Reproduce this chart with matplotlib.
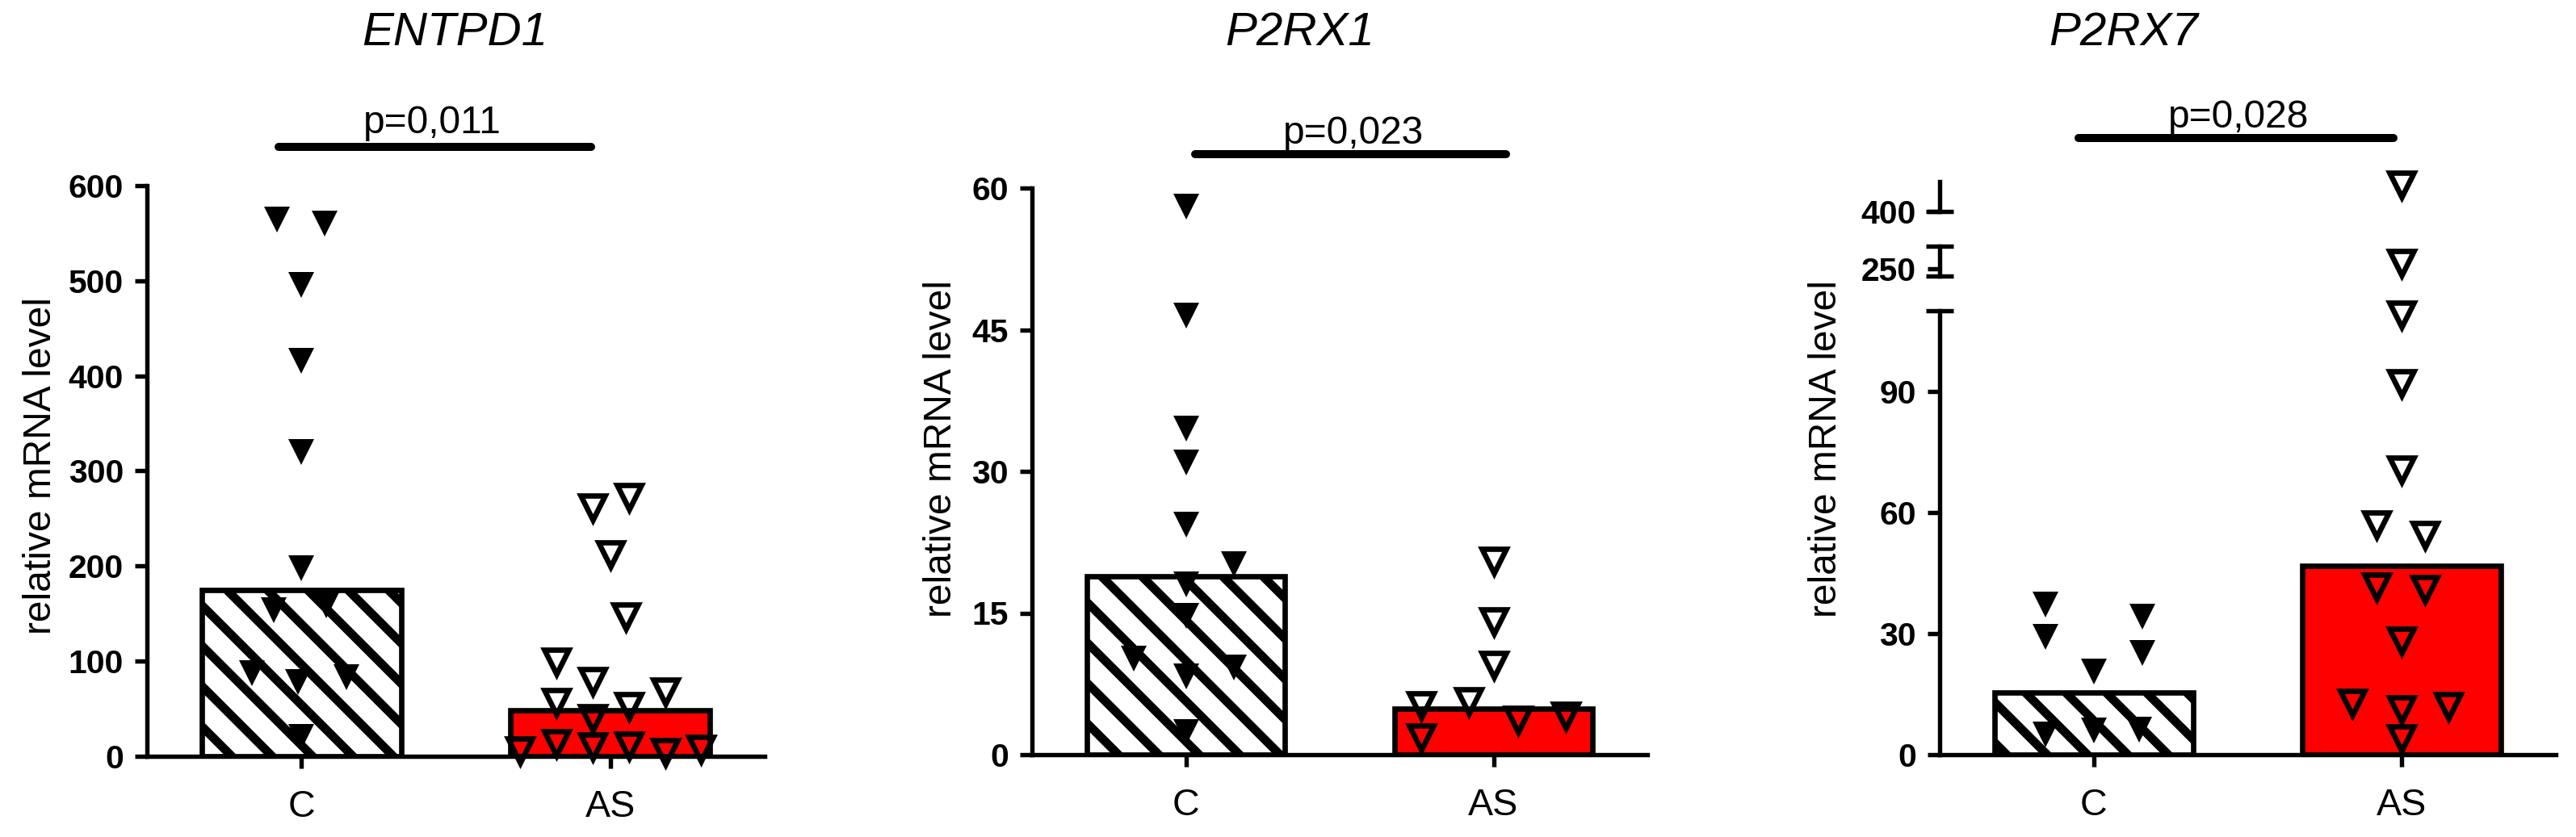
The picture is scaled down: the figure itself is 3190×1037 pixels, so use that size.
import matplotlib.pyplot as plt

plt.rcParams['font.family'] = ['Liberation Sans', 'DejaVu Sans']
plt.rcParams['hatch.linewidth'] = 2.6
plt.rcParams['hatch.color'] = 'black'

W, H = 3190, 1037
DPI = 300

groups = ['C', 'AS']
genes = ['ENTPD1', 'P2RX1', 'P2RX7']
p_labels = ['p=0,011', 'p=0,023', 'p=0,028']

# ENTPD1 (values and horizontal scatter)
entpd1_c = [564, 560, 496, 416, 320, 198, 154, 159, 87, 78, 83, 20]
entpd1_c_dx = [-0.08, 0.076, 0, 0, 0, 0, -0.089, 0.081, -0.16, -0.01, 0.147, 0]
entpd1_as = [261, 272, 212, 147, 99, 79, 68, 57, 53, 40, 6, 14, 10, 11, 4, 8]
entpd1_as_dx = [-0.058, 0.06, 0, 0.05, -0.175, -0.058, 0.178, -0.175, 0.06,
                -0.058, -0.293, -0.175, -0.058, 0.06, 0.178, 0.293]
entpd1_bar = [175, 48]
entpd1_ticks = [0, 100, 200, 300, 400, 500, 600]

# P2RX1
p2rx1_c = [58.0, 46.5, 34.5, 30.9, 24.4, 20.2, 18.0, 14.7, 10.2, 8.3, 9.2, 2.4]
p2rx1_c_dx = [0, 0, 0, 0, 0, 0.157, 0, 0, -0.168, 0, 0.157, 0]
p2rx1_as = [20.5, 14.1, 9.5, 5.2, 5.6, 3.7, 4.1, 1.8]
p2rx1_as_dx = [0, 0, 0, -0.236, -0.079, 0.079, 0.236, -0.236]
p2rx1_bar = [18.9, 4.9]
p2rx1_ticks = [0, 15, 30, 45, 60]

# P2RX7 (broken y axis)
p2rx7_c = [37.2, 29.2, 20.6, 34.2, 25.2, 5.0, 6.0, 6.2]
p2rx7_c_dx = [-0.157, -0.157, 0, 0.157, 0.157, -0.157, 0, 0.147]
p2rx7_as = [436, 257, 109, 92, 70.7, 57, 54.4, 41.6, 41, 28.2, 12.8, 11.2, 12, 4.0]
p2rx7_as_dx = [0, 0, 0, 0, 0, -0.081, 0.076, -0.081, 0.076, 0, -0.16, 0, 0.152, 0]
p2rx7_bar = [15.4, 46.8]
p2rx7_ticks_low = [0, 30, 60, 90]
p2rx7_segments = [(0, 110), (240, 280), (400, 440)]
p2rx7_ticks_mid = [250]
p2rx7_ticks_top = [400]

RED = '#ff0000'
LW = 1.3


def px(x0, y0, w, h):
    # pixel box (left, top, width, height) -> figure fraction rect
    return [x0 / W, 1 - (y0 + h) / H, w / W, h / H]


def style(ax, ticks, bottom=True):
    for s in ['top', 'right']:
        ax.spines[s].set_visible(False)
    ax.spines['left'].set_linewidth(LW)
    ax.spines['bottom'].set_linewidth(LW)
    if not bottom:
        ax.spines['bottom'].set_visible(False)
    ax.set_xlim(-0.5, 1.5)
    ax.set_yticks(ticks)
    ax.set_yticklabels([str(t) for t in ticks], fontsize=9.8, fontweight='bold')
    ax.tick_params(axis='y', length=3.6, width=LW, pad=3.4)
    if bottom:
        ax.set_xticks([0, 1])
        ax.set_xticklabels(groups, fontsize=11.2)
        ax.tick_params(axis='x', length=3.6, width=LW, pad=6.3)
    else:
        ax.set_xticks([])
    ax.patch.set_alpha(0)


def bars(ax, heights):
    ax.bar([0], heights[0], width=0.645, color='white', edgecolor='black',
           linewidth=1.6, hatch='\\\\', zorder=2)
    ax.bar([1], heights[1], width=0.645, color=RED, edgecolor='black',
           linewidth=1.6, zorder=2)


def points(ax, xc, vals, dx, filled):
    xs = [xc + d for d in dx]
    if filled:
        ax.plot(xs, vals, 'v', ms=7.5, color='black', mew=0, zorder=3, clip_on=False)
    else:
        ax.plot(xs, vals, 'v', ms=7.2, mfc='none', mec='black', mew=1.6,
                zorder=3, clip_on=False)


def cap(ax, y, half=0.0223):
    ax.plot([-half, half], [y, y], color='black', lw=LW, clip_on=False,
            transform=ax.transAxes, solid_capstyle='butt')


fig = plt.figure(figsize=(W / DPI, H / DPI), dpi=DPI)

# panel 1
ax1 = fig.add_axes(px(182, 230, 765, 707))
ax1.set_ylim(0, 600)
style(ax1, entpd1_ticks)
bars(ax1, entpd1_bar)
points(ax1, 0, entpd1_c, entpd1_c_dx, True)
points(ax1, 1, entpd1_as, entpd1_as_dx, False)

# panel 2
ax2 = fig.add_axes(px(1278, 233, 762, 702))
ax2.set_ylim(0, 60)
style(ax2, p2rx1_ticks)
bars(ax2, p2rx1_bar)
points(ax2, 0, p2rx1_c, p2rx1_c_dx, True)
points(ax2, 1, p2rx1_as, p2rx1_as_dx, False)

# panel 3, three stacked segments of one broken axis
ax3 = fig.add_axes(px(2402, 385, 763, 550))
ax3m = fig.add_axes(px(2402, 305, 763, 37))
ax3t = fig.add_axes(px(2402, 225, 763, 37))
ax3.set_ylim(*p2rx7_segments[0])
ax3m.set_ylim(*p2rx7_segments[1])
ax3t.set_ylim(*p2rx7_segments[2])
style(ax3, p2rx7_ticks_low)
style(ax3m, p2rx7_ticks_mid, bottom=False)
style(ax3t, p2rx7_ticks_top, bottom=False)
bars(ax3, p2rx7_bar)
points(ax3, 0, p2rx7_c, p2rx7_c_dx, True)
for seg_ax, (lo, hi) in zip([ax3, ax3m, ax3t], p2rx7_segments):
    sel = [i for i, v in enumerate(p2rx7_as) if lo <= v <= hi]
    points(seg_ax, 1, [p2rx7_as[i] for i in sel], [p2rx7_as_dx[i] for i in sel], False)
cap(ax3, 1)
cap(ax3m, 0)
cap(ax3m, 1)
cap(ax3t, 0)

# titles, p values, significance lines, y labels
title_x = [563, 1610, 2630]
for g, tx in zip(genes, title_x):
    fig.text(tx / W, 1 - 41 / H, g, fontsize=14, style='italic', ha='center', va='center')

sig = [(345, 732, 182, 535, 165), (1480, 1865, 191, 1676, 178), (2574, 2964, 171, 2772, 158)]
for (x0, x1, ly, tx, ty), lab in zip(sig, p_labels):
    fig.add_artist(plt.Line2D([x0 / W, x1 / W], [1 - ly / H, 1 - ly / H], color='black',
                              lw=2.4, solid_capstyle='round'))
    fig.text(tx / W, 1 - ty / H, lab, fontsize=11.5, ha='center', va='baseline')

ylab = [(51, 577), (1165, 556), (2262, 556)]
for lx, ly in ylab:
    fig.text(lx / W, 1 - ly / H, 'relative mRNA level', fontsize=11.5, rotation=90,
             ha='center', va='center')

fig.savefig('out.png', dpi=DPI, facecolor='white')
